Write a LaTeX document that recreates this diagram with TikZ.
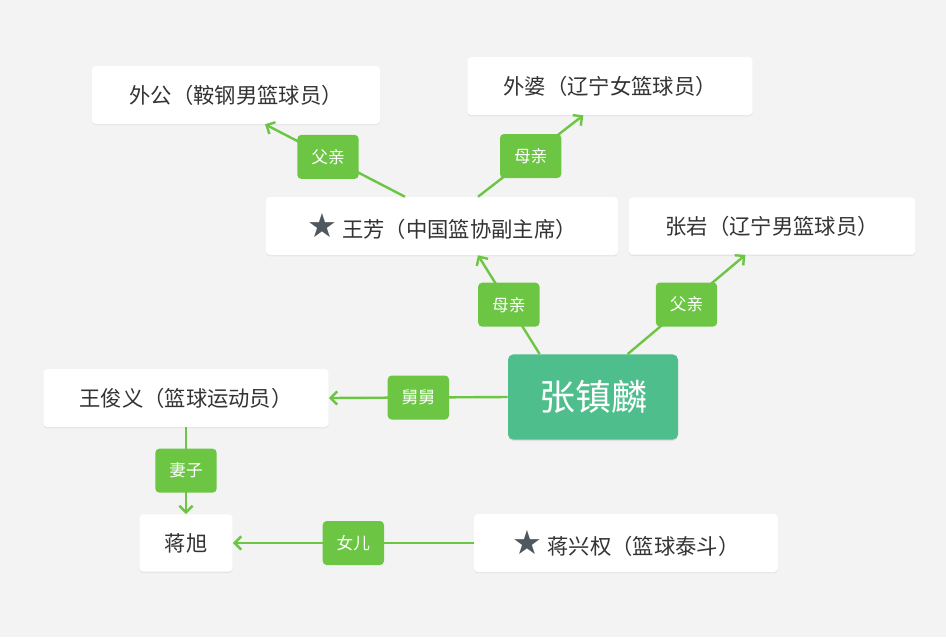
\documentclass[tikz,border=0pt]{standalone}
\usepackage{fontspec}
\setmainfont{Noto Sans CJK SC}
\newfontfamily\symfont{DejaVu Sans}
\usetikzlibrary{shadows,arrows.meta}
\definecolor{bg}{HTML}{F3F3F3}
\definecolor{lg}{HTML}{6CC644}
\definecolor{cg}{HTML}{4DBE8C}
\definecolor{tx}{HTML}{333333}
\definecolor{st}{HTML}{4F585E}
\tikzset{
 box/.style={fill=white,rounded corners=3pt,inner sep=0pt,text=tx,font=\fontsize{16}{18}\selectfont,
   drop shadow={shadow xshift=0pt,shadow yshift=-1pt,opacity=0.12}},
 lbl/.style={fill=lg,rounded corners=3pt,text=white,font=\fontsize{12.5}{14}\selectfont,minimum width=46pt,minimum height=33pt,inner sep=2pt},
 edge/.style={draw=lg,line width=1.8pt,-{Straight Barb[length=5pt,width=10pt,line width=1.8pt]}},
}
\newcommand{\starmark}{{\symfont\color{st}\fontsize{25}{25}\selectfont ★}\hspace{4pt}}
\begin{document}
\begin{tikzpicture}[x=0.75pt,y=-0.75pt]
\fill[bg] (0,0) rectangle (946,637);
\useasboundingbox (0,0) rectangle (946,637);
\node[box,minimum width=216pt,minimum height=43.5pt] (wg) at (236,95) {外公（鞍钢男篮球员）};
\node[box,minimum width=214pt,minimum height=43.5pt] (wp) at (610,86) {外婆（辽宁女篮球员）};
\node[box,minimum width=264pt,minimum height=43.5pt] (wf) at (442,226) {\starmark 王芳（中国篮协副主席）};
\node[box,minimum width=215pt,minimum height=43pt] (zy) at (772,226) {张岩（辽宁男篮球员）};
\node[fill=cg,rounded corners=4pt,text=white,font=\fontsize{27}{30}\selectfont,minimum width=127.5pt,minimum height=64pt,drop shadow={shadow xshift=0pt,shadow yshift=-1pt,opacity=0.15}] (zz) at (593,397) {张镇麟};
\node[box,minimum width=214pt,minimum height=43.5pt] (wj) at (186,398) {王俊义（篮球运动员）};
\node[box,minimum width=70pt,minimum height=43pt] (jx) at (186,543) {蒋旭};
\node[box,minimum width=228pt,minimum height=43.5pt] (jq) at (626,543) {\starmark 蒋兴权（篮球泰斗）};
\draw[edge] ([xshift=-27.75pt]wf.north) -- node[lbl,pos=0.55]{父亲} ([xshift=21.75pt]wg.south);
\draw[edge] ([xshift=27pt]wf.north) -- node[lbl,pos=0.5]{母亲} ([xshift=-20pt]wp.south);
\draw[edge] ([xshift=-40pt]zz.north) -- node[lbl,pos=0.5]{母亲} ([xshift=27pt]wf.south);
\draw[edge] ([xshift=26pt]zz.north) -- node[lbl,pos=0.5]{父亲} ([xshift=-20pt]zy.south);
\draw[edge] (zz.west) -- node[lbl,pos=0.5]{舅舅} (wj.east);
\draw[edge] (wj.south) -- node[lbl,pos=0.5]{妻子} (jx.north);
\draw[edge] (jq.west) -- node[lbl,pos=0.5]{女儿} (jx.east);
\end{tikzpicture}
\end{document}
